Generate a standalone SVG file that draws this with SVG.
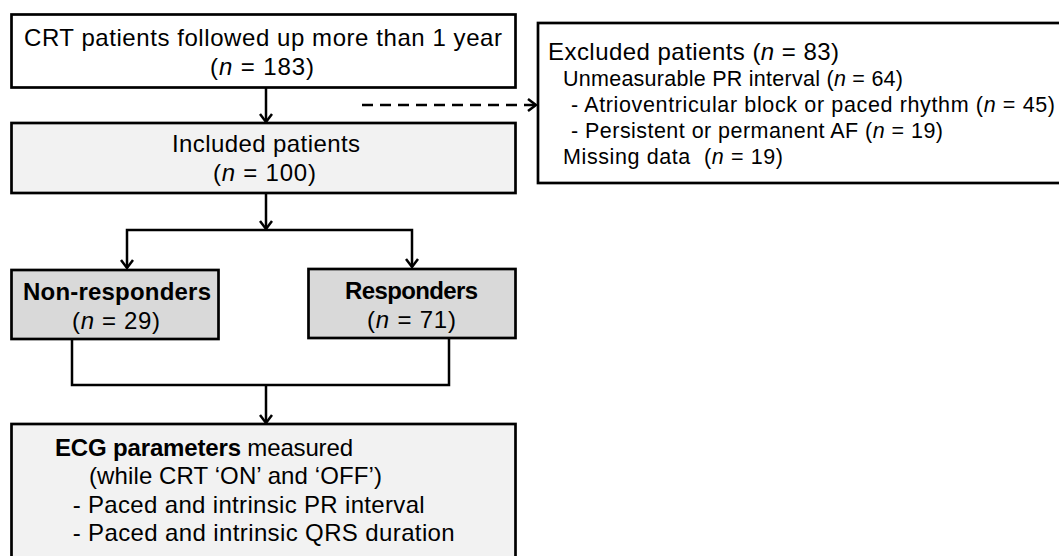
<svg xmlns="http://www.w3.org/2000/svg" width="1059" height="556" viewBox="0 0 1059 556">
<defs>
<marker id="arr" markerUnits="userSpaceOnUse" markerWidth="14" markerHeight="14" refX="0" refY="0" viewBox="-10 -7 12 14" orient="auto" overflow="visible">
<path d="M-8,-6 L0,0 L-8,6" fill="none" stroke="#000" stroke-width="2.5" stroke-linejoin="miter"/>
</marker>
<style>
text{font-family:"Liberation Sans",Arial,sans-serif;font-size:24px;fill:#000}
.c{text-anchor:middle}
.b{font-weight:bold}
.s{font-size:21.5px}
.i{font-style:italic}
.box{stroke:#000;stroke-width:2.7}
.w{fill:#fff}
.l{fill:#f2f2f2}
.d{fill:#d9d9d9}
.con{fill:none;stroke:#000;stroke-width:2.5}
</style>
</defs>
<rect width="1059" height="556" fill="#fff"/>
<g id="connectors">
<path class="con" d="M266,88 V122" marker-end="url(#arr)"/>
<path class="con" d="M362,105 H536" stroke-dasharray="11 7" marker-end="url(#arr)"/>
<path class="con" d="M266,194 V229" marker-end="url(#arr)"/>
<path class="con" d="M266,230 H127 V268" marker-end="url(#arr)"/>
<path class="con" d="M266,230 H412 V267" marker-end="url(#arr)"/>
<path class="con" d="M72,340 V385 H449 V339"/>
<path class="con" d="M266,385 V423" marker-end="url(#arr)"/>
</g>
<g id="n-crt">
<rect class="box w" x="11.5" y="14.5" width="504" height="73"/>
<text class="c" x="263" y="46" textLength="478" lengthAdjust="spacing">CRT patients followed up more than 1 year</text>
<text class="c" x="262" y="75" textLength="104" lengthAdjust="spacing">(<tspan class="i">n</tspan> = 183)</text>
</g>
<g id="n-excluded">
<rect class="box w" x="538" y="23" width="530" height="160"/>
<text x="548" y="60" textLength="291" lengthAdjust="spacing">Excluded patients (<tspan class="i">n</tspan> = 83)</text>
<text class="s" x="563" y="86" textLength="340" lengthAdjust="spacing">Unmeasurable PR interval (<tspan class="i">n</tspan> = 64)</text>
<text class="s" x="571" y="112" textLength="484" lengthAdjust="spacing">- Atrioventricular block or paced rhythm (<tspan class="i">n</tspan> = 45)</text>
<text class="s" x="571" y="138" textLength="372" lengthAdjust="spacing">- Persistent or permanent AF (<tspan class="i">n</tspan> = 19)</text>
<text class="s" x="563" y="164" textLength="220" lengthAdjust="spacing" xml:space="preserve">Missing data  (<tspan class="i">n</tspan> = 19)</text>
</g>
<g id="n-included">
<rect class="box l" x="11.5" y="123" width="504" height="70"/>
<text class="c" x="266" y="152" textLength="188" lengthAdjust="spacing">Included patients</text>
<text class="c" x="264.5" y="181" textLength="103" lengthAdjust="spacing">(<tspan class="i">n</tspan> = 100)</text>
</g>
<g id="n-nonresp">
<rect class="box d" x="11.5" y="270" width="207" height="69"/>
<text class="c b" x="117" y="300" textLength="188" lengthAdjust="spacing">Non-responders</text>
<text class="c" x="116" y="329" textLength="88" lengthAdjust="spacing">(<tspan class="i">n</tspan> = 29)</text>
</g>
<g id="n-resp">
<rect class="box d" x="308.5" y="269" width="207" height="69"/>
<text class="c b" x="411.5" y="299" textLength="133" lengthAdjust="spacing">Responders</text>
<text class="c" x="411.5" y="328" textLength="89" lengthAdjust="spacing">(<tspan class="i">n</tspan> = 71)</text>
</g>
<g id="n-ecg">
<rect class="box l" x="11.5" y="424" width="504" height="150"/>
<text x="55" y="456" textLength="298" lengthAdjust="spacing"><tspan class="b">ECG parameters</tspan> measured</text>
<text x="89" y="484" textLength="293" lengthAdjust="spacing">(while CRT ‘ON’ and ‘OFF’)</text>
<text x="72.7" y="513" textLength="352" lengthAdjust="spacing">- Paced and intrinsic PR interval</text>
<text x="72.7" y="541" textLength="382" lengthAdjust="spacing">- Paced and intrinsic QRS duration</text>
</g>
</svg>
